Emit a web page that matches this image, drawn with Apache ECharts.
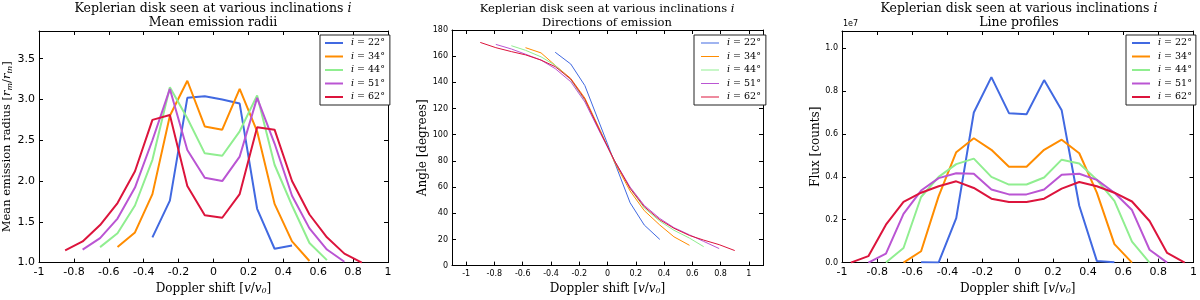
<!DOCTYPE html>
<html><head><meta charset="utf-8">
<script src="https://cdn.jsdelivr.net/npm/echarts@6/dist/echarts.min.js"></script>
<style>html,body{margin:0;padding:0;background:#fff}#c{width:1200px;height:300px}</style>
</head><body><div id="c"></div>
<script>
// ---------- data ----------
const seriesNames = ['i = 22°', 'i = 34°', 'i = 44°', 'i = 51°', 'i = 62°'];
const seriesColors = ['#4169e1', '#ff8c00', '#90ee90', '#ba55d3', '#dc143c'];

// Panel 1: mean emission radii
const radX22 = [-0.35,-0.25,-0.15,-0.05,0.05,0.15,0.25,0.35,0.45];
const radY22 = [1.31,1.76,3.02,3.04,3.00,2.95,1.66,1.17,1.21];
const radX34 = [-0.55,-0.45,-0.35,-0.25,-0.15,-0.05,0.05,0.15,0.25,0.35,0.45,0.55];
const radY34 = [1.19,1.37,1.84,2.80,3.23,2.67,2.63,3.13,2.61,1.72,1.26,1.02];
const radX44 = [-0.65,-0.55,-0.45,-0.35,-0.25,-0.15,-0.05,0.05,0.15,0.25,0.35,0.45,0.55,0.65];
const radY44 = [1.19,1.36,1.70,2.26,3.15,2.77,2.34,2.31,2.61,3.05,2.20,1.70,1.24,1.03];
const radX51 = [-0.75,-0.65,-0.55,-0.45,-0.35,-0.25,-0.15,-0.05,0.05,0.15,0.25,0.35,0.45,0.55,0.65,0.75];
const radY51 = [1.16,1.30,1.54,1.92,2.50,3.13,2.38,2.04,2.00,2.30,3.02,2.46,1.82,1.42,1.16,1.01];
const radX62 = [-0.85,-0.75,-0.65,-0.55,-0.45,-0.35,-0.25,-0.15,-0.05,0.05,0.15,0.25,0.35,0.45,0.55,0.65,0.75,0.85];
const radY62 = [1.15,1.26,1.46,1.73,2.12,2.75,2.81,1.94,1.58,1.55,1.84,2.66,2.63,2.00,1.59,1.31,1.11,1.00];

// Panel 2: directions of emission (degrees)
const angX22 = [-0.37,-0.26,-0.16,0.0,0.16,0.26,0.37];
const angY22 = [163,154,137.5,93,48,31,20];
const angX34 = [-0.58,-0.47,-0.37,-0.26,-0.16,-0.05,0.05,0.16,0.26,0.37,0.47,0.58];
const angY34 = [166.5,162.5,153,143,128,103,79,57,42,31,22,15.5];
const angX44 = [-0.68,-0.58,-0.47,-0.37,-0.26,-0.16,-0.05,0.05,0.16,0.26,0.37,0.47,0.58,0.68];
const angY44 = [168,164.5,159.5,153,142,126,102,80,59,44,34,27,21,14.5];
const angX51 = [-0.79,-0.68,-0.58,-0.47,-0.37,-0.26,-0.16,-0.05,0.05,0.16,0.26,0.37,0.47,0.58,0.68,0.79];
const angY51 = [169,165.5,161.5,157,150.5,140.5,125,101,80,60,46,36,29,23.5,18.5,13];
const angX62 = [-0.9,-0.79,-0.68,-0.58,-0.47,-0.37,-0.26,-0.16,-0.05,0.05,0.16,0.26,0.37,0.47,0.58,0.68,0.79,0.9];
const angY62 = [170.5,166.5,163.5,161,157,152,142.5,127,102,80,59,45,35,28.5,23,19.5,16,11.5];

// Panel 3: line profiles (counts)
const fluxX22 = [-0.55,-0.45,-0.35,-0.25,-0.15,-0.05,0.05,0.15,0.25,0.35,0.45,0.55];
const fluxY22 = [2e4,1e4,2.07e6,7.0e6,8.65e6,6.97e6,6.92e6,8.51e6,7.1e6,2.65e6,8e4,2e4];
const fluxX34 = [-0.65,-0.55,-0.45,-0.35,-0.25,-0.15,-0.05,0.05,0.15,0.25,0.35,0.45,0.55,0.65];
const fluxY34 = [0,5.3e5,3.1e6,5.15e6,5.8e6,5.26e6,4.47e6,4.47e6,5.26e6,5.73e6,5.1e6,3.26e6,8.6e5,0];
const fluxX44 = [-0.75,-0.65,-0.55,-0.45,-0.35,-0.25,-0.15,-0.05,0.05,0.15,0.25,0.35,0.45,0.55,0.65,0.75];
const fluxY44 = [0,6.8e5,3.06e6,4.0e6,4.59e6,4.85e6,4.0e6,3.64e6,3.64e6,3.97e6,4.8e6,4.62e6,3.86e6,2.88e6,9.8e5,0];
const fluxX51 = [-0.85,-0.75,-0.65,-0.55,-0.45,-0.35,-0.25,-0.15,-0.05,0.05,0.15,0.25,0.35,0.45,0.55,0.65,0.75,0.85];
const fluxY51 = [0,4.2e5,2.27e6,3.36e6,3.94e6,4.17e6,4.14e6,3.41e6,3.18e6,3.18e6,3.41e6,4.1e6,4.14e6,3.86e6,3.26e6,2.45e6,6.0e5,0];
const fluxX62 = [-0.95,-0.85,-0.75,-0.65,-0.55,-0.45,-0.35,-0.25,-0.15,-0.05,0.05,0.15,0.25,0.35,0.45,0.55,0.65,0.75,0.85,0.95];
const fluxY62 = [0,3.0e5,1.77e6,2.83e6,3.26e6,3.56e6,3.79e6,3.48e6,2.98e6,2.83e6,2.83e6,2.98e6,3.45e6,3.76e6,3.56e6,3.26e6,2.85e6,1.94e6,4.5e5,0];

// tick settings
const xTicksMain = {min: -1, max: 1, interval: 0.2};
const yTicksRad = {min: 1.0, max: 3.84, interval: 0.5};
const yTicksAng = {min: 0, max: 180, interval: 20};
const yTicksFlux = {min: 0, max: 1.08e7, interval: 2e6};

// ---------- chart ----------
const SERIF = 'DejaVu Serif';
const SANS = 'DejaVu Sans';
const panelX = [[radX22,radX34,radX44,radX51,radX62],[angX22,angX34,angX44,angX51,angX62],[fluxX22,fluxX34,fluxX44,fluxX51,fluxX62]];
const panelY = [[radY22,radY34,radY44,radY51,radY62],[angY22,angY34,angY44,angY51,angY62],[fluxY22,fluxY34,fluxY44,fluxY51,fluxY62]];
const lineWidths = [2, 1, 2];

const grids = [
  {left: 39, top: 31, width: 349, height: 237},
  {left: 452, top: 30, width: 311, height: 241},
  {left: 842, top: 31, width: 354, height: 237}
];

function richSet(size){
  return {
    it: {fontFamily: SERIF, fontStyle: 'italic', fontSize: size, color: '#000'},
    sub: {fontFamily: SERIF, fontStyle: 'italic', fontSize: Math.round(size*0.7), color: '#000', padding: [Math.round(size*0.45),0,0,0]},
    n: {fontFamily: SERIF, fontSize: size, color: '#000'}
  };
}
function fmtX(v){ return Math.abs(Math.abs(v) - 1.1) < 1e-6 ? '' : String(+v.toFixed(1)); }

function baseAxis(grid, pos, ticks, labelSize, formatter, extra){
  const a = Object.assign({
    gridIndex: grid, type: 'value', position: pos,
    axisLine: {show: true, onZero: false, lineStyle: {color: '#000', width: 1}},
    axisTick: {show: true, inside: true, length: 4, lineStyle: {color: '#000', width: 1}},
    splitLine: {show: false},
    axisLabel: {show: !!formatter, fontFamily: SANS, fontSize: labelSize, color: '#000', margin: 4, formatter: formatter || undefined}
  }, ticks, extra || {});
  return a;
}

const xLabelName = 'Doppler shift [{it|v}/{it|v}{sub|0}]';
const xAxes = [
  baseAxis(0, 'bottom', xTicksMain, 11, fmtX, {name: xLabelName, nameLocation: 'middle', nameGap: 13, nameTextStyle: {fontFamily: SERIF, fontSize: 12, color: '#000', rich: richSet(12)}}),
  baseAxis(0, 'top', xTicksMain, 11, null),
  baseAxis(1, 'bottom', {min: -1.1, max: 1.1, minInterval: 0.2, maxInterval: 0.2, splitNumber: 11}, 8, fmtX, {name: xLabelName, nameLocation: 'middle', nameGap: 15, nameTextStyle: {fontFamily: SERIF, fontSize: 12, color: '#000', rich: richSet(12)}}),
  baseAxis(1, 'top', {min: -1.1, max: 1.1, minInterval: 0.2, maxInterval: 0.2, splitNumber: 11}, 8, null),
  baseAxis(2, 'bottom', xTicksMain, 11, fmtX, {name: xLabelName, nameLocation: 'middle', nameGap: 13, nameTextStyle: {fontFamily: SERIF, fontSize: 12, color: '#000', rich: richSet(12)}}),
  baseAxis(2, 'top', xTicksMain, 11, null)
];
const yAxes = [
  baseAxis(0, 'left', yTicksRad, 11, v => v > 3.6 ? '' : v.toFixed(1), {name: 'Mean emission radius [{it|r}{sub|m}/{it|r}{sub|in}]', nameLocation: 'middle', nameGap: 25, nameTextStyle: {fontFamily: SERIF, fontSize: 11.5, color: '#000', rich: richSet(11.5)}}),
  baseAxis(0, 'right', yTicksRad, 11, null),
  baseAxis(1, 'left', yTicksAng, 8, v => String(v), {name: 'Angle [degrees]', nameLocation: 'middle', nameGap: 21, nameTextStyle: {fontFamily: SERIF, fontSize: 12, color: '#000'}}),
  baseAxis(1, 'right', yTicksAng, 8, null),
  baseAxis(2, 'left', yTicksFlux, 8, v => v > 1.05e7 ? '' : (v/1e7).toFixed(1), {name: 'Flux [counts]', nameLocation: 'middle', nameGap: 15, nameTextStyle: {fontFamily: SERIF, fontSize: 12, color: '#000'}}),
  baseAxis(2, 'right', yTicksFlux, 8, null)
];

const series = [];
for (let p = 0; p < 3; p++) {
  for (let s = 0; s < 5; s++) {
    const xs = panelX[p][s], ys = panelY[p][s];
    series.push({
      type: 'line', name: seriesNames[s], xAxisIndex: p*2, yAxisIndex: p*2,
      data: xs.map((x, k) => [x, ys[k]]),
      showSymbol: false, symbol: 'none', silent: true,
      lineStyle: {color: seriesColors[s], width: lineWidths[p]},
      itemStyle: {color: seriesColors[s]},
      z: 2 + s
    });
  }
}

function legendFor(left, top, lh, fs, padding){
  return {
    data: seriesNames, orient: 'vertical', left: left, top: top,
    icon: 'rect', itemWidth: 18, itemHeight: lh, itemGap: 3.5,
    padding: padding, borderColor: '#222', borderWidth: 1, borderRadius: 0,
    backgroundColor: '#fff', selectedMode: false,
    textStyle: {fontFamily: SERIF, fontSize: fs, color: '#000', padding: [0,0,0,3], rich: {it: {fontFamily: SERIF, fontStyle: 'italic', fontSize: fs, color: '#000'}}},
    formatter: n => '{it|i}' + n.slice(1)
  };
}

const titleLines = ['Mean emission radii', 'Directions of emission', 'Line profiles'];
const titleCenters = [213, 607, 1019];
const titleSizes = [12.5, 11.5, 12.5];
const graphics = titleLines.map((t, k) => ({
  type: 'text', x: titleCenters[k], y: 2,
  style: {
    text: 'Keplerian disk seen at various inclinations {it|i}\n' + t,
    fontFamily: SERIF, fontSize: titleSizes[k], fill: '#000', align: 'center', verticalAlign: 'top',
    lineHeight: 14,
    rich: {it: {fontFamily: SERIF, fontStyle: 'italic', fontSize: titleSizes[k], fill: '#000', lineHeight: 14}}
  }
}));
graphics.push({type: 'text', x: 843, y: 20, style: {text: '1e7', fontFamily: SANS, fontSize: 8, fill: '#000'}});

const chart = echarts.init(document.getElementById('c'), null, {renderer: 'canvas'});
chart.setOption({
  animation: false,
  backgroundColor: '#fff',
  textStyle: {fontFamily: SANS},
  grid: grids,
  xAxis: xAxes,
  yAxis: yAxes,
  legend: [
    legendFor(320, 35, 2, 9.5, [3,5,3,5]),
    legendFor(694, 35, 1, 9.5, [3,5,3,7]),
    legendFor(1126, 35, 2, 9.5, [3,4,3,6])
  ],
  graphic: graphics,
  series: series
});
</script>
</body></html>
